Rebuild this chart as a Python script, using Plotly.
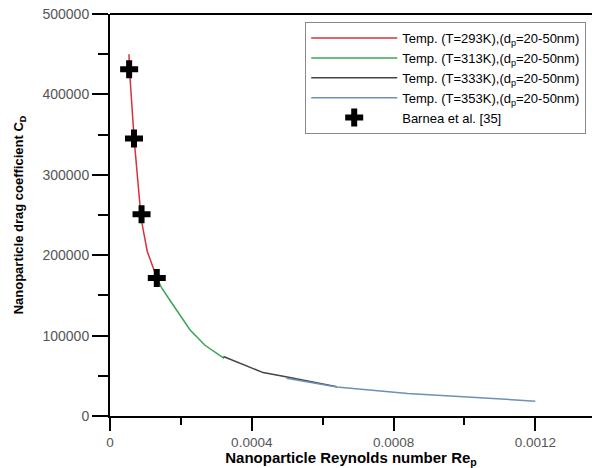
import plotly.graph_objects as go

# Data
red_x = [5.36e-5, 5.5e-5, 6.8e-5, 8.8e-5, 1.05e-4, 1.32e-4]
red_y = [450000, 431000, 345000, 245000, 205000, 172000]
green_x = [1.32e-4, 1.45e-4, 1.69e-4, 2.26e-4, 2.68e-4, 3.22e-4]
green_y = [172000, 160000, 144000, 107000, 88000, 71800]
black_x = [3.2e-4, 4.32e-4, 5.0e-4, 6.4e-4]
black_y = [74000, 54000, 48500, 36500]
blue_x = [4.98e-4, 6.4e-4, 8.4e-4, 1.2e-3]
blue_y = [47000, 36000, 28000, 18500]
barnea_x = [5.4e-5, 6.77e-5, 8.9e-5, 1.32e-4]
barnea_y = [431200, 345000, 251000, 171600]

x_tickvals = [0, 0.0004, 0.0008, 0.0012]
x_ticktext = ["0", "0.0004", "0.0008", "0.0012"]
y_tickvals = [0, 100000, 200000, 300000, 400000, 500000]
y_ticktext = ["0", "100000", "200000", "300000", "400000", "500000"]

names = [
    "Temp. (T=293K),(d<sub>p</sub>=20-50nm)",
    "Temp. (T=313K),(d<sub>p</sub>=20-50nm)",
    "Temp. (T=333K),(d<sub>p</sub>=20-50nm)",
    "Temp. (T=353K),(d<sub>p</sub>=20-50nm)",
]
FONT = "Arial, Liberation Sans, sans-serif"

fig = go.Figure()
for xs, ys, col, nm in [
    (red_x, red_y, "#d9303c", names[0]),
    (green_x, green_y, "#3aa655", names[1]),
    (black_x, black_y, "#444444", names[2]),
    (blue_x, blue_y, "#6f8fb8", names[3]),
]:
    fig.add_trace(go.Scatter(x=xs, y=ys, mode="lines", name=nm,
                             line=dict(color=col, width=1.5)))
fig.add_trace(go.Scatter(x=barnea_x, y=barnea_y, mode="markers",
                         name="Barnea et al. [35]",
                         marker=dict(symbol="cross", size=15, color="black",
                                     line=dict(width=0))))

axis_common = dict(
    showline=True, linecolor="black", linewidth=2,
    ticks="outside", tickwidth=2, tickcolor="black",
    showgrid=False, zeroline=False, automargin=False,
)
fig.update_xaxes(
    range=[0, 0.00136], tickvals=x_tickvals, ticktext=x_ticktext, ticklen=13,
    tickfont=dict(family=FONT, size=13.5, color="#555555"),
    minor=dict(dtick=0.0002, tick0=0, ticks="outside", ticklen=7, tickwidth=2, tickcolor="black"),
    title=dict(text="<b>Nanoparticle Reynolds number Re<sub>p</sub></b>",
               font=dict(family=FONT, size=15, color="black"), standoff=0),
    **axis_common,
)
fig.update_yaxes(
    range=[0, 500000], tickvals=y_tickvals, ticktext=y_ticktext, ticklen=16,
    tickfont=dict(family=FONT, size=14, color="#555555"),
    minor=dict(dtick=50000, tick0=0, ticks="outside", ticklen=10, tickwidth=2, tickcolor="black"),
    title=dict(text="<b>Nanoparticle drag coefficient C<sub>D</sub></b>",
               font=dict(family=FONT, size=13, color="black"), standoff=16),
    **axis_common,
)
# top border line
fig.add_shape(type="line", xref="paper", yref="paper", x0=0, x1=1, y0=1, y1=1,
              line=dict(color="black", width=2))

fig.update_layout(
    width=597, height=468,
    margin=dict(l=110, r=5, t=14, b=52),
    plot_bgcolor="white", paper_bgcolor="white",
    font=dict(family=FONT, size=12, color="black"),
    legend=dict(x=0.405, y=0.98, xanchor="left", yanchor="top",
                bgcolor="white", bordercolor="#888888", borderwidth=1,
                font=dict(family=FONT, size=13, color="black"),
                tracegroupgap=0, itemwidth=86),
    showlegend=True,
)
fig.write_html("out.html", config={"displayModeBar": False},
               post_script="document.body.style.margin='0';document.body.style.overflow='hidden';")
